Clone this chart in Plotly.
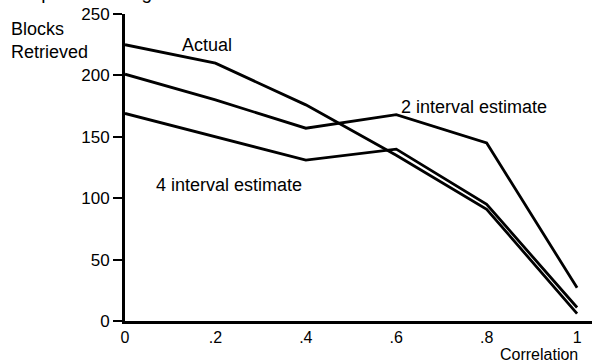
import plotly.graph_objects as go

correlation = [0, 0.2, 0.4, 0.6, 0.8, 1.0]
actual = [225, 210, 176, 135, 91, 6]
two_interval = [201, 180, 157, 168, 145, 27]
four_interval = [169, 150, 131, 140, 95, 11]

x_tickvals = [0, 0.2, 0.4, 0.6, 0.8, 1.0]
x_ticktext = ["0", ".2", ".4", ".6", ".8", "1"]
y_tickvals = [0, 50, 100, 150, 200, 250]

FONT = "Liberation Sans, Arial, Helvetica, sans-serif"
L, B, PW, PH = 125, 43, 467, 307

fig = go.Figure()
for name, ys in [("Actual", actual), ("2 interval estimate", two_interval),
                 ("4 interval estimate", four_interval)]:
    fig.add_trace(go.Scatter(x=correlation, y=ys, mode="lines", name=name,
                             line=dict(color="black", width=2.8),
                             cliponaxis=False, showlegend=False))

fig.update_layout(
    width=592, height=364,
    margin=dict(l=L, r=0, t=14, b=B),
    paper_bgcolor="white", plot_bgcolor="white",
    font=dict(family=FONT, size=17, color="black"),
    xaxis=dict(range=[0, 1.033], tickvals=x_tickvals, ticktext=x_ticktext,
               showgrid=False, zeroline=False, showline=True, linecolor="black",
               linewidth=3, ticks="", tickfont=dict(size=16), ticklabelstandoff=0),
    yaxis=dict(range=[0, 250], tickvals=y_tickvals, showgrid=False, zeroline=False,
               showline=True, linecolor="black", linewidth=3, ticks="outside",
               ticklen=9, tickwidth=2, tickcolor="black", tickfont=dict(size=17)),
)

def px(xp):
    return (xp - L) / PW

def py(yp):
    return (364 - yp - B) / PH

annotations = [
    dict(text="Blocks<br>Retrieved", x=9, y=40),
    dict(text="Actual", x=180, y=45),
    dict(text="2 interval estimate", x=399, y=107),
    dict(text="4 interval estimate", x=154, y=185),
]
for a in annotations:
    fig.add_annotation(text=a["text"], xref="paper", yref="paper",
                       x=px(a["x"]), y=py(a["y"]),
                       xanchor="left", yanchor="middle", showarrow=False,
                       align="left", font=dict(size=18, family=FONT))

fig.add_annotation(text="Correlation", xref="paper", yref="paper",
                   x=px(579), y=py(364), xanchor="right", yanchor="bottom",
                   showarrow=False, borderpad=0, font=dict(size=16, family=FONT))

fig.add_annotation(text="ates prove to be good when the correlation is less than 0.3.",
                   xref="paper", yref="paper", x=px(-2), y=1, yshift=9,
                   xanchor="left", yanchor="bottom", showarrow=False,
                   font=dict(size=19, family=FONT))

fig.write_html("out.html")
